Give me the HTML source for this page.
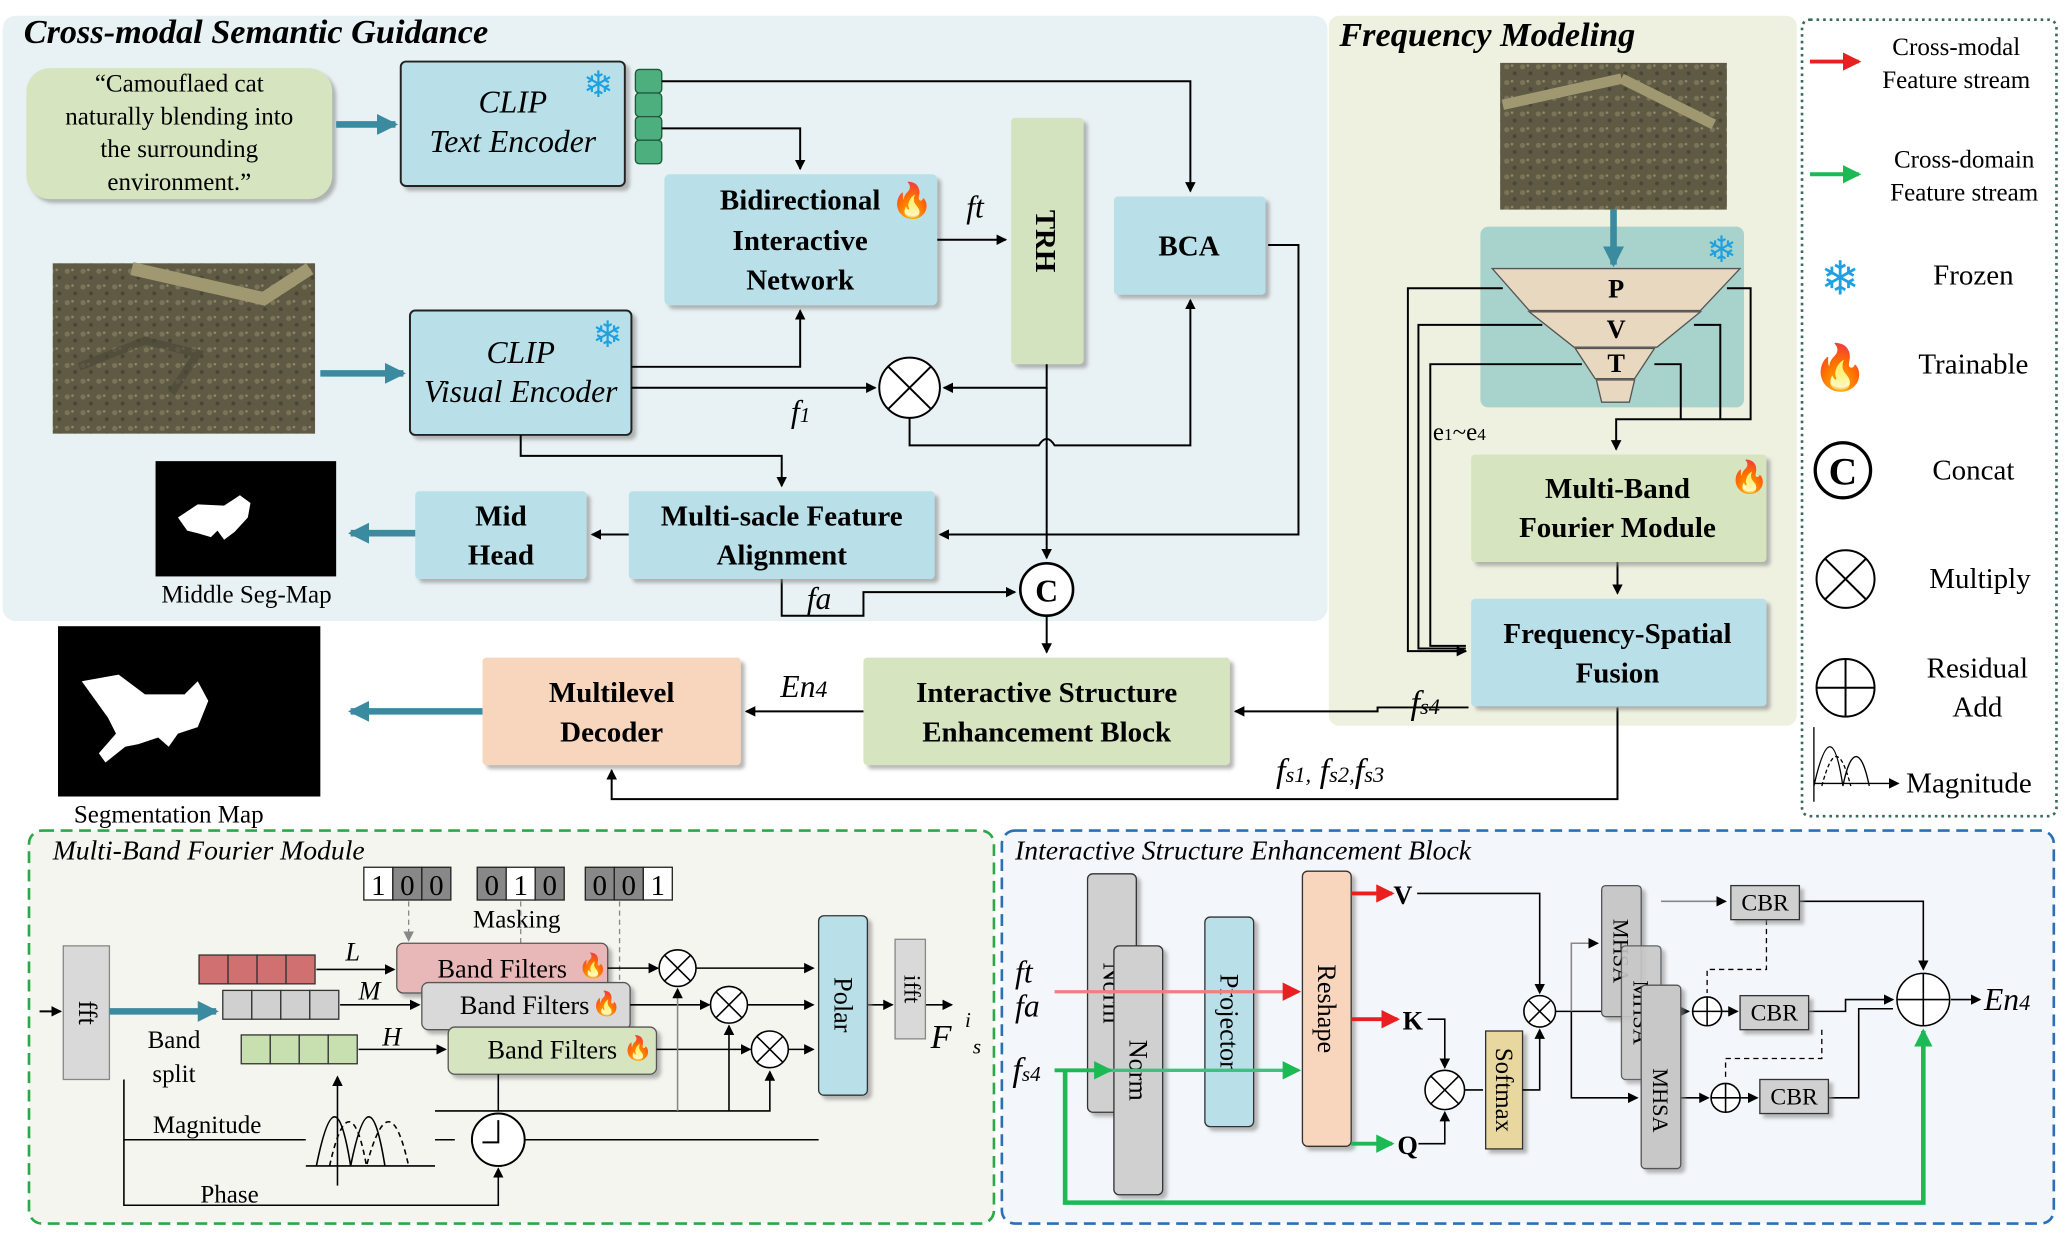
<!DOCTYPE html>
<html><head><meta charset="utf-8"><style>
html,body{margin:0;padding:0;background:#fff;}
svg{display:block;}
text{font-family:"Liberation Serif",serif;}
</style></head><body>
<svg width="2067" height="1238" viewBox="0 0 1568 945" preserveAspectRatio="none" xmlns="http://www.w3.org/2000/svg">
<defs>
<marker id="a" markerWidth="8" markerHeight="8" refX="7" refY="4" orient="auto" markerUnits="userSpaceOnUse"><path d="M0,0 L8,4 L0,8 z" fill="#000"/></marker>
<marker id="ab" markerWidth="16" markerHeight="16" refX="14" refY="8" orient="auto" markerUnits="userSpaceOnUse"><path d="M0,0 L16,8 L0,16 z" fill="#3a8aa0"/></marker>
<marker id="ar" markerWidth="14" markerHeight="14" refX="12" refY="7" orient="auto" markerUnits="userSpaceOnUse"><path d="M0,0 L14,7 L0,14 z" fill="#e82020"/></marker>
<marker id="ag" markerWidth="14" markerHeight="14" refX="12" refY="7" orient="auto" markerUnits="userSpaceOnUse"><path d="M0,0 L14,7 L0,14 z" fill="#1db954"/></marker>
<marker id="agy" markerWidth="8" markerHeight="8" refX="7" refY="4" orient="auto" markerUnits="userSpaceOnUse"><path d="M0,0 L8,4 L0,8 z" fill="#888"/></marker>
<filter id="sh" x="-10%" y="-10%" width="130%" height="130%"><feDropShadow dx="3" dy="3" stdDeviation="1.5" flood-color="#888" flood-opacity="0.6"/></filter>
<pattern id="gr" width="12" height="12" patternUnits="userSpaceOnUse"><rect width="12" height="12" fill="#5e5a44"/><circle cx="3" cy="3" r="2" fill="#7a7458"/><circle cx="9" cy="8" r="1.5" fill="#4a4636"/><circle cx="7" cy="2" r="1" fill="#8c8a6a"/></pattern>
</defs>
<rect width="1568" height="945" fill="#fff"/>
<rect x="2" y="12" width="1005" height="462" rx="10" fill="#e8f1f3"/>
<rect x="1008" y="12" width="355" height="542" rx="8" fill="#eef0e0"/>
<rect x="1367" y="15" width="193" height="608" rx="6" fill="none" stroke="#3a6a5a" stroke-width="2" stroke-dasharray="2,3"/>
<rect x="22" y="634" width="732" height="300" rx="10" fill="#f5f5ef" stroke="#2aa84a" stroke-width="2" stroke-dasharray="9,5"/>
<rect x="760" y="634" width="798" height="300" rx="10" fill="#f3f6fa" stroke="#2a6fb8" stroke-width="2" stroke-dasharray="9,5"/>
<text x="18" y="33" font-size="26" font-weight="bold" font-style="italic">Cross-modal Semantic Guidance</text>
<text x="1016" y="35" font-size="26" font-weight="bold" font-style="italic">Frequency Modeling</text>
<text x="40" y="656" font-size="21" font-style="italic">Multi-Band Fourier Module</text>
<text x="770" y="656" font-size="21" font-style="italic">Interactive Structure Enhancement Block</text>

<rect x="20" y="52" width="232" height="100" rx="18" fill="#d6e4c0" filter="url(#sh)"/>
<text font-size="19" text-anchor="middle"><tspan x="136" y="70">“Camouflaed cat</tspan><tspan x="136" y="95">naturally blending into</tspan><tspan x="136" y="120">the surrounding</tspan><tspan x="136" y="145">environment.”</tspan></text>
<line x1="255" y1="95" x2="300" y2="95" stroke="#3a8aa0" stroke-width="5" marker-end="url(#ab)"/>
<rect x="304" y="47" width="170" height="95" rx="4" fill="#b9dfe8" stroke="#222" stroke-width="1.5" filter="url(#sh)"/>
<text font-size="24" font-style="italic" text-anchor="middle"><tspan x="389" y="86">CLIP</tspan><tspan x="389" y="116">Text Encoder</tspan></text>
<text x="454" y="74" font-size="28" fill="#1fa0e0" text-anchor="middle">❄</text>
<g fill="#4caf7d" stroke="#1a5a3a" stroke-width="1"><rect x="482" y="53" width="20" height="18" rx="3"/><rect x="482" y="71" width="20" height="18" rx="3"/><rect x="482" y="89" width="20" height="18" rx="3"/><rect x="482" y="107" width="20" height="18" rx="3"/></g>
<rect x="504" y="133" width="207" height="100" rx="4" fill="#b9dfe8" filter="url(#sh)"/>
<text font-size="22" font-weight="bold" text-anchor="middle"><tspan x="607" y="160">Bidirectional</tspan><tspan x="607" y="191">Interactive</tspan><tspan x="607" y="221">Network</tspan></text>
<text x="692" y="162" font-size="26" fill="#f06010" text-anchor="middle">🔥</text>
<rect x="767" y="90" width="55" height="188" rx="3" fill="#d3e3c0" filter="url(#sh)"/>
<text transform="translate(786,184) rotate(90)" font-size="22" font-weight="bold" text-anchor="middle">TRH</text>
<rect x="845" y="150" width="115" height="75" rx="3" fill="#b9dfe8" filter="url(#sh)"/>
<text x="902" y="195" font-size="22" font-weight="bold" text-anchor="middle">BCA</text>
<rect x="40" y="201" width="199" height="130" fill="url(#gr)"/>
<path d="M100,205 L200,228 L235,205" stroke="#a09870" stroke-width="10" fill="none"/>
<path d="M60,280 L110,260 L150,270 L130,300" stroke="#4a4636" stroke-width="6" fill="none" opacity="0.6"/>
<line x1="243" y1="285" x2="306" y2="285" stroke="#3a8aa0" stroke-width="5" marker-end="url(#ab)"/>
<rect x="311" y="237" width="168" height="95" rx="4" fill="#b9dfe8" stroke="#222" stroke-width="1.5" filter="url(#sh)"/>
<text font-size="24" font-style="italic" text-anchor="middle"><tspan x="395" y="277">CLIP</tspan><tspan x="395" y="307">Visual Encoder</tspan></text>
<text x="461" y="265" font-size="28" fill="#1fa0e0" text-anchor="middle">❄</text>
<g stroke="#000" stroke-width="1.5" fill="none">
<polyline points="502,62 903,62 903,146" marker-end="url(#a)"/>
<polyline points="502,98 607,98 607,129" marker-end="url(#a)"/>
<line x1="711" y1="183" x2="763" y2="183" marker-end="url(#a)"/>
<polyline points="479,280 607,280 607,237" marker-end="url(#a)"/>
<line x1="479" y1="296" x2="664" y2="296" marker-end="url(#a)"/>
<polyline points="794,278 794,296 716,296" marker-end="url(#a)"/>
<path d="M690,319 L690,340 L788,340 Q794,330 800,340 L903,340 L903,229" marker-end="url(#a)"/>
<path d="M794,296 L794,426" marker-end="url(#a)"/>
<polyline points="962,187 985,187 985,408 713,408" marker-end="url(#a)"/>
<polyline points="395,332 395,348 593,348 593,371" marker-end="url(#a)"/>
<line x1="477" y1="408" x2="449" y2="408" marker-end="url(#a)"/>
<polyline points="593,442 593,470 655,470 655,452 770,452" marker-end="url(#a)"/>
<line x1="794" y1="470" x2="794" y2="498" marker-end="url(#a)"/>
</g>
<circle cx="690" cy="296" r="23" fill="#fff" stroke="#000" stroke-width="1.5"/>
<path d="M674,280 L706,312 M706,280 L674,312" stroke="#000" stroke-width="1.5"/>
<text x="733" y="166" font-size="24" font-style="italic">ft</text>
<text x="600" y="322" font-size="24" font-style="italic">f<tspan font-size="16">1</tspan></text>
<text x="612" y="465" font-size="24" font-style="italic">fa</text>
<rect x="477" y="375" width="232" height="67" rx="3" fill="#b9dfe8" filter="url(#sh)"/>
<text font-size="22" font-weight="bold" text-anchor="middle"><tspan x="593" y="401">Multi-sacle Feature</tspan><tspan x="593" y="431">Alignment</tspan></text>
<rect x="315" y="375" width="130" height="67" rx="3" fill="#b9dfe8" filter="url(#sh)"/>
<text font-size="22" font-weight="bold" text-anchor="middle"><tspan x="380" y="401">Mid</tspan><tspan x="380" y="431">Head</tspan></text>
<line x1="315" y1="407" x2="266" y2="407" stroke="#3a8aa0" stroke-width="5" marker-end="url(#ab)"/>
<rect x="118" y="352" width="137" height="88" fill="#000"/>
<path d="M135,395 L150,385 L170,386 L182,378 L190,384 L188,395 L178,406 L170,412 L165,405 L160,410 L150,407 L142,405 z" fill="#fff"/>
<text x="187" y="460" font-size="19" text-anchor="middle">Middle Seg-Map</text>
<circle cx="794" cy="450" r="20" fill="#fff" stroke="#000" stroke-width="2"/>
<text x="794" y="459" font-size="24" font-weight="bold" text-anchor="middle">C</text>
<rect x="655" y="502" width="278" height="82" rx="3" fill="#d6e4c0" filter="url(#sh)"/>
<text font-size="22" font-weight="bold" text-anchor="middle"><tspan x="794" y="536">Interactive Structure</tspan><tspan x="794" y="566">Enhancement Block</tspan></text>
<rect x="366" y="502" width="196" height="82" rx="3" fill="#f8d6bd" filter="url(#sh)"/>
<text font-size="22" font-weight="bold" text-anchor="middle"><tspan x="464" y="536">Multilevel</tspan><tspan x="464" y="566">Decoder</tspan></text>
<g stroke="#000" stroke-width="1.5" fill="none">
<line x1="655" y1="543" x2="566" y2="543" marker-end="url(#a)"/>
<polyline points="1227,540 1227,610 464,610 464,588" marker-end="url(#a)"/>
<polyline points="1114,540 1045,540 1045,543 937,543" marker-end="url(#a)"/>
</g>
<text x="592" y="532" font-size="24" font-style="italic">En<tspan font-size="18">4</tspan></text>
<text x="968" y="597" font-size="26" font-style="italic">f<tspan font-size="17">s1,</tspan> f<tspan font-size="17">s2,</tspan>f<tspan font-size="17">s3</tspan></text>
<text x="1070" y="545" font-size="26" font-style="italic">f<tspan font-size="17">s4</tspan></text>
<line x1="366" y1="543" x2="266" y2="543" stroke="#3a8aa0" stroke-width="5" marker-end="url(#ab)"/>
<rect x="44" y="478" width="199" height="130" fill="#000"/>
<path d="M62,520 L90,515 L110,530 L140,530 L150,520 L158,535 L150,555 L135,560 L128,570 L120,563 L105,568 L95,570 L80,582 L75,575 L88,560 L82,548 z" fill="#fff"/>
<text x="128" y="628" font-size="19" text-anchor="middle">Segmentation Map</text>

<rect x="1138" y="48" width="172" height="112" fill="url(#gr)"/>
<path d="M1140,80 L1230,60 M1230,60 L1300,95" stroke="#a09870" stroke-width="8" fill="none"/>
<rect x="1123" y="173" width="200" height="138" rx="6" fill="#a7d3cc"/>
<line x1="1224" y1="160" x2="1224" y2="202" stroke="#3a8aa0" stroke-width="5" marker-end="url(#ab)"/>
<text x="1306" y="200" font-size="28" fill="#1fa0e0" text-anchor="middle">❄</text>
<g fill="#e8d8c0" stroke="#555" stroke-width="1">
<path d="M1132,205 L1320,205 L1290,237 L1160,237 z"/>
<path d="M1160,238 L1290,238 L1257,265 L1194,265 z"/>
<path d="M1195,266 L1255,266 L1240,289 L1210,289 z"/>
<path d="M1211,290 L1240,290 L1236,307 L1215,307 z"/>
</g>
<text font-size="20" font-weight="bold" text-anchor="middle"><tspan x="1226" y="227">P</tspan><tspan x="1226" y="258">V</tspan><tspan x="1226" y="284">T</tspan></text>
<g stroke="#000" stroke-width="1.5" fill="none">
<polyline points="1140,220 1068,220 1068,497 1112,497"/>
<polyline points="1310,220 1328,220 1328,320 1226,320 1226,343" marker-end="url(#a)"/>
<polyline points="1170,248 1076,248 1076,495 1112,495"/>
<polyline points="1285,248 1305,248 1305,320"/>
<polyline points="1200,278 1085,278 1085,493 1112,493"/>
<polyline points="1255,278 1275,278 1275,320"/>
<line x1="1085" y1="497" x2="1112" y2="497" marker-end="url(#a)"/>
<line x1="1227" y1="429" x2="1227" y2="453" marker-end="url(#a)"/>
</g>
<text x="1087" y="336" font-size="19">e<tspan font-size="13">1</tspan>~e<tspan font-size="13">4</tspan></text>
<rect x="1116" y="347" width="224" height="82" rx="3" fill="#d6e4c0" filter="url(#sh)"/>
<text font-size="22" font-weight="bold" text-anchor="middle"><tspan x="1227" y="380">Multi-Band</tspan><tspan x="1227" y="410">Fourier Module</tspan></text>
<text x="1327" y="372" font-size="24" text-anchor="middle">🔥</text>
<rect x="1116" y="457" width="224" height="82" rx="3" fill="#b9dfe8" filter="url(#sh)"/>
<text font-size="22" font-weight="bold" text-anchor="middle"><tspan x="1227" y="491">Frequency-Spatial</tspan><tspan x="1227" y="521">Fusion</tspan></text>

<line x1="1373" y1="47" x2="1410" y2="47" stroke="#e82020" stroke-width="3" marker-end="url(#ar)"/>
<text font-size="19" text-anchor="middle"><tspan x="1484" y="42">Cross-modal</tspan><tspan x="1484" y="67">Feature stream</tspan></text>
<line x1="1373" y1="133" x2="1410" y2="133" stroke="#1db954" stroke-width="3" marker-end="url(#ag)"/>
<text font-size="19" text-anchor="middle"><tspan x="1490" y="128">Cross-domain</tspan><tspan x="1490" y="153">Feature stream</tspan></text>
<text x="1396" y="225" font-size="36" fill="#1fa0e0" text-anchor="middle">❄</text>
<text x="1497" y="217" font-size="22" text-anchor="middle">Frozen</text>
<text x="1396" y="292" font-size="34" text-anchor="middle">🔥</text>
<text x="1497" y="285" font-size="22" text-anchor="middle">Trainable</text>
<circle cx="1398" cy="359" r="21" fill="#fff" stroke="#000" stroke-width="2.5"/>
<text x="1398" y="370" font-size="30" font-weight="bold" text-anchor="middle">C</text>
<text x="1497" y="366" font-size="22" text-anchor="middle">Concat</text>
<circle cx="1400" cy="442" r="22" fill="#fff" stroke="#000" stroke-width="1.5"/>
<path d="M1384,426 L1416,458 M1416,426 L1384,458" stroke="#000" stroke-width="1.5"/>
<text x="1502" y="449" font-size="22" text-anchor="middle">Multiply</text>
<circle cx="1400" cy="525" r="22" fill="#fff" stroke="#000" stroke-width="1.5"/>
<path d="M1378,525 L1422,525 M1400,503 L1400,547" stroke="#000" stroke-width="1.5"/>
<text font-size="22" text-anchor="middle"><tspan x="1500" y="517">Residual</tspan><tspan x="1500" y="547">Add</tspan></text>
<g stroke="#000" stroke-width="1" fill="none"><line x1="1376" y1="612" x2="1376" y2="555"/><path d="M1376,600 C1385,560 1392,560 1398,600 C1404,570 1412,570 1418,600" /><path d="M1382,600 C1390,570 1396,570 1404,600" stroke-dasharray="3,2"/><line x1="1376" y1="598" x2="1440" y2="598" marker-end="url(#a)"/></g>
<text x="1446" y="605" font-size="22">Magnitude</text>

<rect x="48" y="722" width="35" height="102" fill="#d9d9d9" stroke="#888"/>
<text transform="translate(60,773) rotate(90)" font-size="20" text-anchor="middle">fft</text>
<line x1="30" y1="772" x2="46" y2="772" stroke="#000" stroke-width="1.5" marker-end="url(#a)"/>
<line x1="83" y1="772" x2="164" y2="772" stroke="#3a8aa0" stroke-width="5" marker-end="url(#ab)"/>
<text font-size="19" text-anchor="middle"><tspan x="132" y="800">Band</tspan><tspan x="132" y="826">split</tspan></text>
<g stroke="#333" stroke-width="1">
<g fill="#d07070"><rect x="151" y="729" width="22" height="22"/><rect x="173" y="729" width="22" height="22"/><rect x="195" y="729" width="22" height="22"/><rect x="217" y="729" width="22" height="22"/></g>
<g fill="#d0d0d0"><rect x="169" y="756" width="22" height="22"/><rect x="191" y="756" width="22" height="22"/><rect x="213" y="756" width="22" height="22"/><rect x="235" y="756" width="22" height="22"/></g>
<g fill="#c8e0b0"><rect x="183" y="790" width="22" height="22"/><rect x="205" y="790" width="22" height="22"/><rect x="227" y="790" width="22" height="22"/><rect x="249" y="790" width="22" height="22"/></g>
</g>
<g font-size="20" font-style="italic"><text x="262" y="733">L</text><text x="272" y="763">M</text><text x="290" y="798">H</text></g>
<g stroke="#000" stroke-width="1.2" fill="none">
<line x1="240" y1="740" x2="299" y2="740" marker-end="url(#a)"/><line x1="258" y1="767" x2="318" y2="767" marker-end="url(#a)"/><line x1="272" y1="801" x2="338" y2="801" marker-end="url(#a)"/>
</g>
<g font-size="24" text-anchor="middle" stroke="#222" stroke-width="1">
<rect x="276" y="662" width="22" height="25" fill="#fff"/><rect x="298" y="662" width="22" height="25" fill="#888"/><rect x="320" y="662" width="22" height="25" fill="#888"/>
<rect x="362" y="662" width="22" height="25" fill="#888"/><rect x="384" y="662" width="22" height="25" fill="#fff"/><rect x="406" y="662" width="22" height="25" fill="#888"/>
<rect x="444" y="662" width="22" height="25" fill="#888"/><rect x="466" y="662" width="22" height="25" fill="#888"/><rect x="488" y="662" width="22" height="25" fill="#fff"/>
</g>
<g font-size="22" text-anchor="middle"><text x="287" y="683">1</text><text x="309" y="683">0</text><text x="331" y="683">0</text><text x="373" y="683">0</text><text x="395" y="683">1</text><text x="417" y="683">0</text><text x="455" y="683">0</text><text x="477" y="683">0</text><text x="499" y="683">1</text></g>
<text x="392" y="708" font-size="19" text-anchor="middle">Masking</text>
<g stroke="#888" stroke-width="1" stroke-dasharray="4,3" fill="none"><line x1="310" y1="688" x2="310" y2="718" marker-end="url(#agy)"/><line x1="395" y1="688" x2="395" y2="748" marker-end="url(#agy)"/><line x1="470" y1="688" x2="470" y2="782" marker-end="url(#agy)"/></g>
<rect x="301" y="720" width="160" height="38" rx="5" fill="#e8b8b8" stroke="#555" filter="url(#sh)"/>
<text x="381" y="746" font-size="20" text-anchor="middle">Band Filters</text><text x="450" y="743" font-size="18" text-anchor="middle">🔥</text>
<rect x="320" y="750" width="158" height="36" rx="5" fill="#d9d9d9" stroke="#555" filter="url(#sh)"/>
<text x="398" y="774" font-size="20" text-anchor="middle">Band Filters</text><text x="460" y="772" font-size="18" text-anchor="middle">🔥</text>
<rect x="340" y="784" width="158" height="36" rx="5" fill="#d6e4c0" stroke="#555" filter="url(#sh)"/>
<text x="419" y="808" font-size="20" text-anchor="middle">Band Filters</text><text x="484" y="806" font-size="18" text-anchor="middle">🔥</text>
<g stroke="#000" stroke-width="1.2" fill="none">
<line x1="461" y1="739" x2="499" y2="739" marker-end="url(#a)"/><line x1="478" y1="767" x2="538" y2="767" marker-end="url(#a)"/><line x1="498" y1="801" x2="569" y2="801" marker-end="url(#a)"/>
<line x1="528" y1="739" x2="617" y2="739" marker-end="url(#a)"/><line x1="567" y1="767" x2="617" y2="767" marker-end="url(#a)"/><line x1="598" y1="801" x2="617" y2="801" marker-end="url(#a)"/>
<line x1="658" y1="767" x2="677" y2="767" marker-end="url(#a)"/><line x1="702" y1="767" x2="722" y2="767" marker-end="url(#a)"/>
<polyline points="94,824 94,870 232,870"/><polyline points="330,870 345,870"/>
<polyline points="94,870 94,920 378,920 378,892" marker-end="url(#a)"/>
<polyline points="398,870 621,870" /><polyline points="378,848 378,820"/>
<polyline points="330,848 584,848 584,818" marker-end="url(#a)"/>
<polyline points="553,848 553,783" marker-end="url(#a)"/>
<polyline points="514,848 514,755" marker-end="url(#a)" stroke="#888"/>
<line x1="256" y1="905" x2="256" y2="822" marker-end="url(#a)"/>
<path d="M240,890 C250,840 258,840 266,890 C276,840 284,840 292,890" /><path d="M250,890 C260,845 270,845 278,890 C290,845 300,845 310,890" stroke-dasharray="4,3"/>
<line x1="232" y1="890" x2="330" y2="890"/>
</g>
<circle cx="378" cy="870" r="20" fill="#fff" stroke="#000" stroke-width="1.5"/>
<path d="M378,855 L378,872 L366,872" stroke="#000" fill="none" stroke-width="1.5"/>
<text x="116" y="865" font-size="19">Magnitude</text>
<text x="152" y="918" font-size="19">Phase</text>
<g fill="#fff" stroke="#000" stroke-width="1.2">
<circle cx="514" cy="739" r="14"/><circle cx="553" cy="767" r="14"/><circle cx="584" cy="801" r="14"/></g>
<path d="M504,729 L524,749 M524,729 L504,749 M543,757 L563,777 M563,757 L543,777 M574,791 L594,811 M594,791 L574,811" stroke="#000" stroke-width="1.2"/>
<rect x="621" y="699" width="37" height="137" rx="4" fill="#b9dfe8" stroke="#333" filter="url(#sh)"/>
<text transform="translate(633,767) rotate(90)" font-size="20" text-anchor="middle">Polar</text>
<rect x="679" y="717" width="23" height="76" fill="#d9d9d9" stroke="#888"/>
<text transform="translate(686,755) rotate(90)" font-size="18" text-anchor="middle">ifft</text>
<text x="706" y="800" font-size="26" font-style="italic">F</text><text x="732" y="784" font-size="16" font-style="italic">i</text><text x="738" y="804" font-size="16" font-style="italic">s</text>

<text x="770" y="750" font-size="24" font-style="italic">ft</text>
<text x="770" y="776" font-size="24" font-style="italic">fa</text>
<text x="768" y="825" font-size="26" font-style="italic">f<tspan font-size="16">s4</tspan></text>
<rect x="825" y="667" width="37" height="182" rx="4" fill="#d0d0d0" stroke="#333" filter="url(#sh)"/>
<text transform="translate(837,758) rotate(90)" font-size="20" text-anchor="middle">Norm</text>
<rect x="845" y="722" width="37" height="190" rx="4" fill="#d0d0d0" stroke="#333" filter="url(#sh)"/>
<text transform="translate(857,817) rotate(90)" font-size="20" text-anchor="middle">Norm</text>
<rect x="914" y="700" width="37" height="160" rx="4" fill="#b9dfe8" stroke="#333" filter="url(#sh)"/>
<text transform="translate(926,780) rotate(90)" font-size="20" text-anchor="middle">Projector</text>
<rect x="988" y="665" width="37" height="210" rx="4" fill="#f8d6bd" stroke="#333" filter="url(#sh)"/>
<text transform="translate(1000,770) rotate(90)" font-size="20" text-anchor="middle">Reshape</text>
<line x1="800" y1="757" x2="985" y2="757" stroke="#f08080" stroke-width="2.5" marker-end="url(#ar)"/>
<line x1="800" y1="817" x2="985" y2="817" stroke="#40c080" stroke-width="2.5" marker-end="url(#ag)"/>
<line x1="800" y1="817" x2="842" y2="817" stroke="#1db954" stroke-width="3" marker-end="url(#ag)"/>
<line x1="1025" y1="682" x2="1056" y2="682" stroke="#e82020" stroke-width="3" marker-end="url(#ar)"/>
<line x1="1025" y1="778" x2="1060" y2="778" stroke="#e82020" stroke-width="3" marker-end="url(#ar)"/>
<line x1="1025" y1="873" x2="1056" y2="873" stroke="#1db954" stroke-width="3" marker-end="url(#ag)"/>
<polyline points="808,817 808,918 1459,918 1459,787" stroke="#1db954" stroke-width="3.5" fill="none" marker-end="url(#ag)"/>
<g font-size="20" font-weight="bold"><text x="1057" y="690">V</text><text x="1064" y="786">K</text><text x="1060" y="881">Q</text></g>
<rect x="1127" y="787" width="28" height="90" fill="#e8d8a0" stroke="#333" filter="url(#sh)"/>
<text transform="translate(1135,832) rotate(90)" font-size="19" text-anchor="middle">Softmax</text>
<g stroke="#000" stroke-width="1.2" fill="none">
<polyline points="1075,682 1168,682 1168,758" marker-end="url(#a)"/>
<polyline points="1083,778 1096,778 1096,815" marker-end="url(#a)"/>
<polyline points="1076,873 1096,873 1096,849" marker-end="url(#a)"/>
<line x1="1111" y1="832" x2="1125" y2="832"/>
<polyline points="1155,832 1168,832 1168,786" marker-end="url(#a)"/>
<line x1="1180" y1="772" x2="1226" y2="772" marker-end="url(#a)"/>
<polyline points="1192,772 1192,720 1212,720" marker-end="url(#a)" stroke="#888"/>
<polyline points="1192,772 1192,838 1242,838" marker-end="url(#a)"/>
<line x1="1256" y1="772" x2="1281" y2="772" marker-end="url(#a)"/>
<line x1="1271" y1="838" x2="1296" y2="838" marker-end="url(#a)"/>
<polyline points="1260,688 1309,688" marker-end="url(#a)" stroke="#888"/>
<line x1="1306" y1="772" x2="1318" y2="772" marker-end="url(#a)"/>
<line x1="1320" y1="838" x2="1333" y2="838" marker-end="url(#a)"/>
<polyline points="1365,688 1459,688 1459,740" marker-end="url(#a)"/>
<polyline points="1372,772 1400,772 1400,763 1436,763" marker-end="url(#a)"/>
<polyline points="1387,838 1410,838 1410,770 1436,770"/>
<line x1="1480" y1="763" x2="1502" y2="763" marker-end="url(#a)"/>
</g>
<g stroke="#000" stroke-width="1" stroke-dasharray="4,3" fill="none"><polyline points="1340,702 1340,740 1295,740 1295,758"/><polyline points="1382,786 1382,808 1309,808 1309,824"/></g>
<circle cx="1168" cy="772" r="12" fill="#fff" stroke="#000" stroke-width="1.2"/><path d="M1160,764 L1176,780 M1176,764 L1160,780" stroke="#000" stroke-width="1.2"/>
<circle cx="1096" cy="832" r="15" fill="#fff" stroke="#000" stroke-width="1.2"/><path d="M1085,821 L1107,843 M1107,821 L1085,843" stroke="#000" stroke-width="1.2"/>
<rect x="1215" y="676" width="30" height="100" rx="3" fill="#c8c8c8" stroke="#555" filter="url(#sh)"/>
<text transform="translate(1224,726) rotate(90)" font-size="17" text-anchor="middle">MHSA</text>
<rect x="1230" y="722" width="30" height="102" rx="3" fill="#c8c8c8" stroke="#555" filter="url(#sh)" opacity="0.9"/>
<text transform="translate(1239,773) rotate(90)" font-size="17" text-anchor="middle">MHSA</text>
<rect x="1245" y="752" width="30" height="140" rx="3" fill="#c8c8c8" stroke="#555" filter="url(#sh)"/>
<text transform="translate(1254,840) rotate(90)" font-size="17" text-anchor="middle">MHSA</text>
<g fill="#d0d0d0" stroke="#333" filter="url(#sh)"><rect x="1313" y="676" width="52" height="26"/><rect x="1320" y="760" width="52" height="26"/><rect x="1335" y="824" width="52" height="26"/></g>
<g font-size="18" text-anchor="middle"><text x="1339" y="695">CBR</text><text x="1346" y="779">CBR</text><text x="1361" y="843">CBR</text></g>
<g fill="#fff" stroke="#000" stroke-width="1.2"><circle cx="1295" cy="772" r="11"/><circle cx="1309" cy="838" r="11"/><circle cx="1459" cy="763" r="20"/></g>
<path d="M1284,772 L1306,772 M1295,761 L1295,783 M1298,838 L1320,838 M1309,827 L1309,849 M1439,763 L1479,763 M1459,743 L1459,783" stroke="#000" stroke-width="1.2"/>
<text x="1505" y="771" font-size="24" font-style="italic">En<tspan font-size="17">4</tspan></text>
</svg>
</body></html>
